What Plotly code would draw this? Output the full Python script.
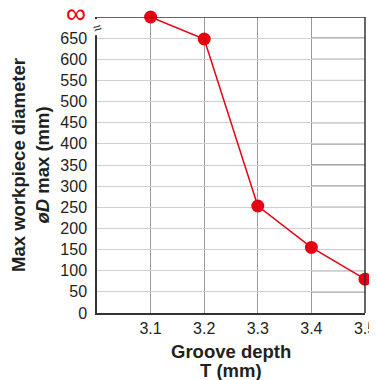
import plotly.graph_objects as go

groove_depth = [3.1, 3.2, 3.3, 3.4, 3.5]
max_diameter = [float("inf"), 648, 253, 155, 80]
y_ticks = list(range(0, 700, 50))
x_ticks = [3.1, 3.2, 3.3, 3.4, 3.5]
INF_LEVEL = 700  # plotting position used for "∞"
x_title_lines = ["Groove depth", "T (mm)"]

y_plot = [INF_LEVEL if v == float("inf") else v for v in max_diameter]

RED = "#e60012"
fig = go.Figure()
fig.add_trace(go.Scatter(
    x=groove_depth, y=y_plot, mode="lines+markers",
    line=dict(color=RED, width=1.5),
    marker=dict(color=RED, size=13),
    cliponaxis=False, showlegend=False,
))

shapes = []
# darker horizontal lines in the last column
for t in y_ticks[1:]:
    shapes.append(dict(type="line", xref="x", yref="y", x0=3.4, x1=3.5, y0=t, y1=t,
                       line=dict(color="#444", width=1), layer="below"))
# top border at infinity level and right border
shapes.append(dict(type="line", xref="paper", yref="y", x0=0, x1=1, y0=INF_LEVEL, y1=INF_LEVEL,
                   line=dict(color="#333", width=1.5)))
shapes.append(dict(type="line", xref="paper", yref="paper", x0=1, x1=1, y0=0, y1=1,
                   line=dict(color="#333", width=1.5)))
# axis break gap
shapes.append(dict(type="rect", xref="paper", yref="y", x0=-0.02, x1=0.015, y0=657, y1=695,
                   fillcolor="white", line=dict(width=0), layer="above"))

annotations = [
    dict(text="∞", xref="paper", yref="y", x=-0.033, y=INF_LEVEL, xanchor="right", yanchor="middle",
         yshift=4, showarrow=False, font=dict(size=28, color=RED)),
    dict(text="≈", xref="paper", yref="y", x=0.0, y=676, xanchor="center", yanchor="middle",
         showarrow=False, font=dict(size=15, color="#333"), textangle=-25),
]
for i, line in enumerate(x_title_lines):
    annotations.append(dict(text=f"<b>{line}</b>", xref="paper", yref="paper", x=0.5, y=0,
                            xanchor="center", yanchor="middle", yshift=-38 - 19 * i,
                            showarrow=False, font=dict(size=18.5, color="#231f20")))

fig.update_layout(
    width=369, height=372,
    margin=dict(l=89, r=12, t=9, b=67),
    paper_bgcolor="white", plot_bgcolor="white",
    font=dict(family="Liberation Sans, Arial, sans-serif", color="#231f20", size=16),
    shapes=shapes,
    xaxis=dict(
        range=[3.0, 3.5], tickvals=x_ticks, ticktext=[f"{v:.1f}" for v in x_ticks],
        showgrid=True, gridcolor="#999", gridwidth=1, automargin=False,
        showline=True, linecolor="#333", linewidth=1.5, ticks="", zeroline=False,
        tickfont=dict(size=16), ticklabelstandoff=0, ticklabeloverflow="allow",
    ),
    yaxis=dict(
        range=[0, INF_LEVEL], tickvals=y_ticks, ticktext=[str(v) for v in y_ticks],
        showgrid=True, gridcolor="#cfcfcf", gridwidth=1, automargin=False,
        showline=True, linecolor="#333", linewidth=1.5, ticks="", zeroline=False,
        title=dict(text="<b>Max workpiece diameter<br><i>øD</i> max (mm)</b>", font=dict(size=18.5), standoff=14),
        tickfont=dict(size=16), ticklabelstandoff=5,
    ),
    annotations=annotations,
)

fig.write_html("out.html")
